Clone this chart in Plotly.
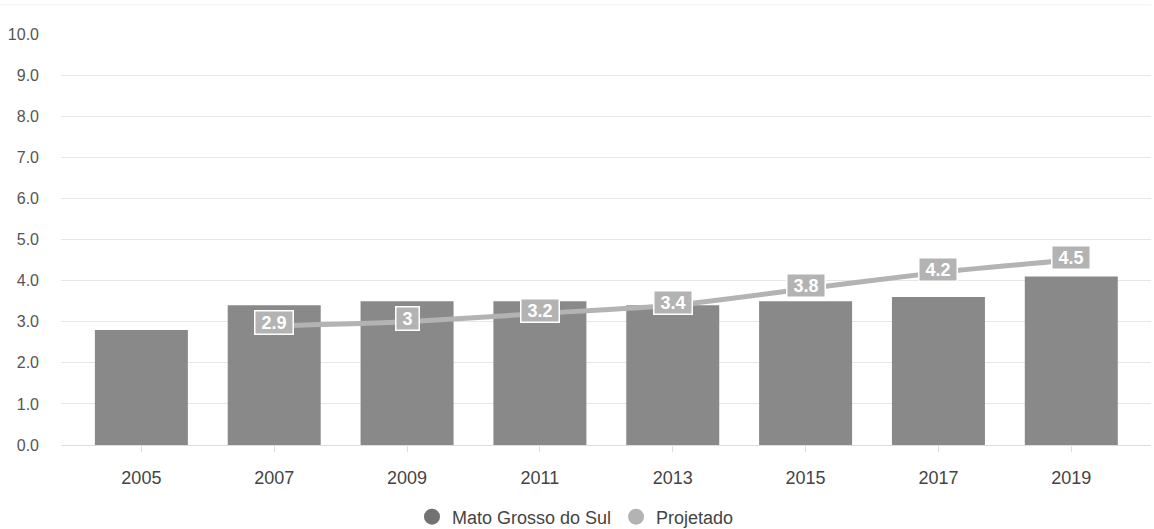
import plotly.graph_objects as go

# Dados
anos = ["2005", "2007", "2009", "2011", "2013", "2015", "2017", "2019"]
mato_grosso_do_sul = [2.8, 3.4, 3.5, 3.5, 3.4, 3.5, 3.6, 4.1]
anos_projetado = ["2007", "2009", "2011", "2013", "2015", "2017", "2019"]
projetado = [2.9, 3.0, 3.2, 3.4, 3.8, 4.2, 4.5]
rotulos_projetado = ["2.9", "3", "3.2", "3.4", "3.8", "4.2", "4.5"]
y_ticks = [0, 1, 2, 3, 4, 5, 6, 7, 8, 9, 10]
y_tick_text = [f"{v:.1f}" for v in y_ticks]

COR_BARRA = "#898989"
COR_LINHA = "#b3b3b3"
COR_LEG_BARRA = "#727272"
FONTE = "Liberation Sans, Arial, sans-serif"

fig = go.Figure()

fig.add_trace(go.Bar(
    x=anos, y=mato_grosso_do_sul, width=0.7,
    marker=dict(color=COR_BARRA, line=dict(width=0)),
    showlegend=False, hoverinfo="x+y", name="Mato Grosso do Sul",
))

fig.add_trace(go.Scatter(
    x=anos_projetado, y=projetado, mode="lines",
    line=dict(color=COR_LINHA, width=5, shape="spline", smoothing=0.6),
    showlegend=False, name="Projetado",
))

# Entradas da legenda com marcadores circulares
fig.add_trace(go.Scatter(
    x=[None], y=[None], mode="markers", name="Mato Grosso do Sul",
    marker=dict(symbol="circle", size=20, color=COR_LEG_BARRA),
))
fig.add_trace(go.Scatter(
    x=[None], y=[None], mode="markers", name="Projetado",
    marker=dict(symbol="circle", size=20, color=COR_LINHA),
))

# Rótulos de valor da série projetada (posição pelo índice da categoria)
NBSP = "\u00a0"
for ano, val, txt in zip(anos_projetado, projetado, rotulos_projetado):
    fig.add_annotation(
        x=anos.index(ano), y=val, xref="x", yref="y",
        text=f"<b>{NBSP}{txt}{NBSP}</b>", showarrow=False,
        yshift=3, bgcolor=COR_LINHA, bordercolor="white", borderwidth=1.5,
        borderpad=1, font=dict(family=FONTE, size=18, color="white"),
    )

# Linha fina no topo
fig.add_shape(type="line", xref="paper", yref="paper", x0=-0.06, x1=1.0,
              y0=1.071, y1=1.071, line=dict(color="#f3f3f3", width=1))

fig.update_layout(
    width=1154, height=529,
    margin=dict(l=61, r=3, t=34, b=84, autoexpand=False),
    paper_bgcolor="white", plot_bgcolor="white",
    font=dict(family=FONTE, color="#555555"),
    bargap=0.3,
    legend=dict(
        orientation="h", x=0.472, xanchor="center", y=-0.175, yanchor="middle",
        font=dict(family=FONTE, size=18, color="#444444"),
        itemsizing="trace", itemwidth=30, tracegroupgap=0,
    ),
)

fig.update_xaxes(
    type="category", categoryorder="array", categoryarray=anos,
    range=[-0.605, 7.6],
    showgrid=False, zeroline=False,
    showline=True, linecolor="#dddddd", linewidth=1,
    ticks="outside", ticklen=6, tickcolor="#dddddd", tickwidth=1,
    tickfont=dict(family=FONTE, size=18, color="#444444"),
    ticklabelstandoff=10, fixedrange=True,
)

fig.update_yaxes(
    range=[0, 10], tickvals=y_ticks, ticktext=y_tick_text,
    showgrid=True, gridcolor="#e6e6e6", gridwidth=1,
    zeroline=False, showline=False, ticks="",
    tickfont=dict(family=FONTE, size=16, color="#555555"),
    ticklabelstandoff=21, fixedrange=True,
)

fig.write_html("out.html")
